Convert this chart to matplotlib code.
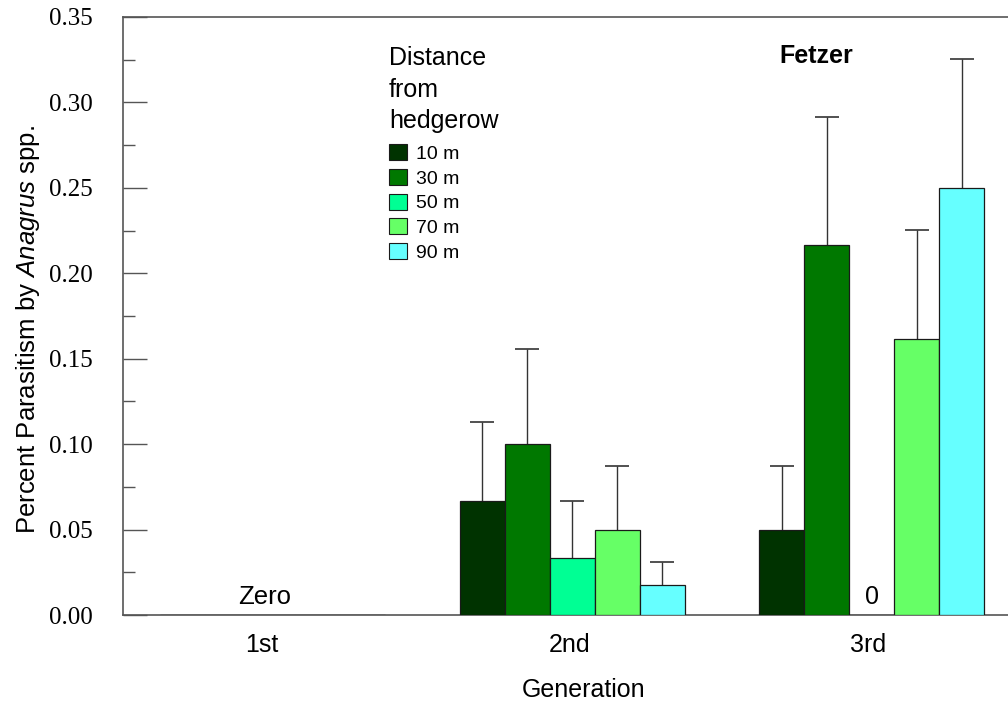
import matplotlib
matplotlib.use("Agg")
import matplotlib.pyplot as plt
import matplotlib.transforms as mtransforms
import numpy as np
from matplotlib.patches import Patch
from matplotlib.ticker import MultipleLocator, FormatStrFormatter

# Data: mean parasitism and upper standard error by generation and distance
generations = ["1st", "2nd", "3rd"]
distances = ["10 m", "30 m", "50 m", "70 m", "90 m"]
means = {
    "10 m": [0.0, 0.0667, 0.0500],
    "30 m": [0.0, 0.1000, 0.2167],
    "50 m": [0.0, 0.0333, 0.0],
    "70 m": [0.0, 0.0500, 0.1617],
    "90 m": [0.0, 0.0175, 0.2500],
}
errors = {
    "10 m": [0.0, 0.0463, 0.0370],
    "30 m": [0.0, 0.0557, 0.0750],
    "50 m": [0.0, 0.0336, 0.0],
    "70 m": [0.0, 0.0372, 0.0638],
    "90 m": [0.0, 0.0135, 0.0757],
}
colors = ["#003300", "#007800", "#00FF94", "#66FF66", "#66FFFF"]

plt.rcParams["font.family"] = ["Liberation Sans", "DejaVu Sans"]
plt.rcParams["mathtext.fontset"] = "custom"
plt.rcParams["mathtext.rm"] = "Liberation Sans"
plt.rcParams["mathtext.it"] = "Liberation Sans:italic"

fig = plt.figure(figsize=(10.08, 7.02), dpi=100)
ax = fig.add_axes([123 / 1008, 87 / 702, 898.5 / 1008, 598 / 702])

x = np.arange(len(generations))
width = 0.15
for i, (d, c) in enumerate(zip(distances, colors)):
    pos = x + (i - 2) * width
    vals = np.array(means[d])
    errs = np.array(errors[d])
    ax.bar(pos, vals, width=width, color=c, edgecolor="#1a1a1a",
           linewidth=0.9, zorder=3)
    keep = errs > 0
    _, caps, _ = ax.errorbar(pos[keep], vals[keep],
                             yerr=[np.zeros(keep.sum()), errs[keep]],
                             fmt="none", ecolor="#333333", elinewidth=1.0,
                             capsize=8.6, capthick=1.2, zorder=2)
    # only the upper cap is drawn
    caps[0].set_visible(False)

ax.set_xlim(-0.5, 2.5)
ax.set_ylim(0, 0.35)
ax.set_xticks(x)
ax.set_xticklabels(generations, fontsize=18)
ax.tick_params(axis="x", length=0, pad=13)
# small horizontal nudges of the generation labels (in points)
for lab, dx in zip(ax.get_xticklabels(), [-8, -2, -2.5]):
    lab.set_transform(lab.get_transform() +
                      mtransforms.ScaledTranslation(dx / 72, 0,
                                                    fig.dpi_scale_trans))

ax.yaxis.set_major_locator(MultipleLocator(0.05))
ax.yaxis.set_minor_locator(MultipleLocator(0.025))
ax.yaxis.set_major_formatter(FormatStrFormatter("%.2f"))
ax.tick_params(axis="y", which="major", direction="in", length=17.3,
               width=1.0, color="#555555", pad=21.5)
ax.tick_params(axis="y", which="minor", direction="in", length=8.6,
               width=1.0, color="#555555")
for lab in ax.get_yticklabels():
    lab.set_fontfamily("Liberation Serif")
    lab.set_fontsize(18)

for side in ("left", "top", "bottom"):
    ax.spines[side].set_color("#555555")
    ax.spines[side].set_linewidth(1.2)
ax.spines["right"].set_visible(False)

ax.set_xlabel("Generation", fontsize=18)
ax.xaxis.set_label_coords(0.513, -0.105)
ax.set_ylabel("Percent Parasitism by $\\it{Anagrus}$ spp.", fontsize=18.5)
ax.yaxis.set_label_coords(-0.090, 0.478)

ax.text(-0.027, 0.0105, "Zero", ha="center", va="center", fontsize=18.5)
ax.text(2, 0.0105, "0", ha="center", va="center", fontsize=18)
ax.text(1.814, 0.327, "Fetzer", ha="center", va="center", fontsize=18,
        fontweight="bold")

handles = [Patch(facecolor=c, edgecolor="#1a1a1a", linewidth=0.8)
           for c in colors]
leg = ax.legend(handles, distances, loc="upper left",
                bbox_to_anchor=(389 / 1008, (702 - 46) / 702),
                bbox_transform=fig.transFigure, frameon=False,
                fontsize=14, title="Distance\nfrom\nhedgerow",
                title_fontsize=18, alignment="left",
                handlelength=0.9, handleheight=0.9, handletextpad=0.5,
                labelspacing=0.3, borderpad=0, borderaxespad=0)
leg.get_title().set_linespacing(1.4)
leg._legend_box.sep = 8

fig.savefig("out.png", dpi=100)
